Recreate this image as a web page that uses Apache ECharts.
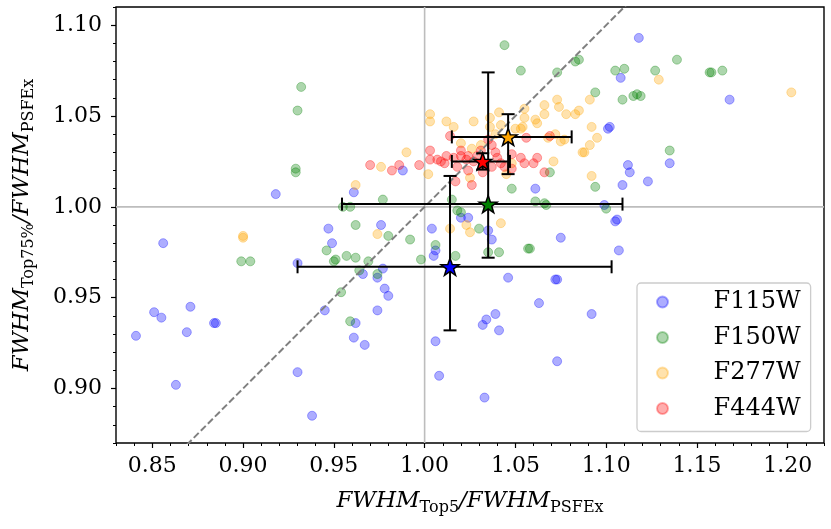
<!DOCTYPE html>
<html>
<head>
<meta charset="utf-8">
<script src="https://cdn.jsdelivr.net/npm/echarts@6/dist/echarts.min.js"></script>
<style>
  html, body { margin: 0; padding: 0; background: #fff; }
  #chart { width: 831px; height: 529px; }
</style>
</head>
<body>
<div id="chart"></div>
<script>
const FONT = "DejaVu Serif";

const filters = ["F115W", "F150W", "F277W", "F444W"];
const starColors = ["#0000ff", "#008000", "#ffa500", "#ff0000"];
const pointColors = ["rgba(0,0,255,0.4)", "rgba(0,128,0,0.4)", "rgba(255,165,0,0.4)", "rgba(255,0,0,0.4)"];

const xTicks = [0.85, 0.90, 0.95, 1.00, 1.05, 1.10, 1.15, 1.20];
const yTicks = [0.90, 0.95, 1.00, 1.05, 1.10];

// [FWHM_Top5/FWHM_PSFEx, FWHM_Top75%/FWHM_PSFEx]
const f115w = [
  [1.118, 1.093], [1.108, 1.071], [1.168, 1.059], [1.101, 1.043], [1.102, 1.044],
  [1.135, 1.024], [1.112, 1.023], [1.113, 1.019], [1.123, 1.014], [1.109, 1.012],
  [1.061, 1.010], [1.099, 1.001], [1.105, 0.992], [1.106, 0.993], [1.075, 0.983],
  [1.107, 0.976], [1.035, 0.987], [1.037, 0.982], [1.020, 0.994], [1.024, 0.994],
  [1.004, 0.988], [1.006, 0.976], [1.005, 0.973], [0.988, 1.020], [0.961, 1.008],
  [0.918, 1.007], [0.856, 0.980], [0.947, 0.988], [0.976, 0.990], [0.949, 0.980],
  [0.930, 0.969], [0.966, 0.963], [0.977, 0.966], [0.974, 0.961], [0.978, 0.955],
  [0.980, 0.951], [0.945, 0.943], [0.974, 0.943], [0.962, 0.936], [0.961, 0.928],
  [0.967, 0.924], [0.930, 0.909], [0.938, 0.885], [0.841, 0.929], [0.851, 0.942],
  [0.855, 0.939], [0.871, 0.945], [0.869, 0.931], [0.884, 0.936], [0.885, 0.936],
  [0.863, 0.902], [1.046, 0.961], [1.073, 0.960], [1.072, 0.960], [1.063, 0.947],
  [1.092, 0.941], [1.039, 0.941], [1.034, 0.938], [1.032, 0.935], [1.041, 0.932],
  [1.006, 0.926], [1.073, 0.915], [1.008, 0.907], [1.033, 0.895]
];
const f150w = [
  [1.044, 1.089], [1.139, 1.081], [1.053, 1.075], [1.073, 1.074], [1.083, 1.080],
  [1.085, 1.081], [1.105, 1.075], [1.110, 1.076], [1.127, 1.075], [1.157, 1.074],
  [1.158, 1.074], [1.164, 1.075], [1.094, 1.063], [1.109, 1.059], [1.115, 1.061],
  [1.117, 1.062], [1.119, 1.061], [1.135, 1.031], [1.094, 1.011], [1.048, 1.010],
  [1.061, 1.003], [1.066, 1.002], [1.067, 1.001], [1.100, 0.999], [1.057, 0.977],
  [1.058, 0.977], [1.041, 0.975], [1.035, 0.975], [1.030, 0.988], [1.018, 0.998],
  [1.020, 0.997], [1.015, 1.004], [0.992, 0.982], [1.006, 0.979], [1.017, 0.973],
  [0.998, 0.971], [0.932, 1.066], [0.930, 1.053], [0.929, 1.021], [0.929, 1.019],
  [0.899, 0.970], [0.904, 0.970], [0.977, 1.004], [0.955, 1.000], [0.959, 1.000],
  [0.962, 0.990], [0.980, 0.984], [0.946, 0.976], [0.957, 0.973], [0.962, 0.972],
  [0.950, 0.970], [0.951, 0.971], [0.969, 0.970], [0.964, 0.965], [0.974, 0.963],
  [0.954, 0.953], [0.959, 0.937], [1.069, 1.019]
];
const f277w = [
  [1.202, 1.063], [1.129, 1.070], [1.091, 1.059], [1.092, 1.044], [1.095, 1.038],
  [1.091, 1.034], [1.087, 1.030], [1.088, 1.030], [1.092, 1.017], [1.071, 1.025],
  [1.042, 0.991], [1.014, 0.988], [1.023, 0.990], [1.025, 0.986], [0.900, 0.983],
  [0.900, 0.984], [0.976, 1.022], [0.990, 1.030], [0.962, 1.012], [0.974, 0.985],
  [1.003, 1.051], [1.003, 1.047], [1.012, 1.047], [1.016, 1.044], [1.027, 1.047],
  [1.036, 1.049], [1.036, 1.044], [1.041, 1.052], [1.042, 1.045], [1.055, 1.054],
  [1.055, 1.049], [1.054, 1.044], [1.053, 1.043], [1.050, 1.043], [1.061, 1.048],
  [1.062, 1.046], [1.066, 1.056], [1.066, 1.051], [1.073, 1.059], [1.074, 1.055],
  [1.078, 1.051], [1.083, 1.051], [1.085, 1.053], [1.068, 1.038], [1.072, 1.040],
  [1.075, 1.036], [1.077, 1.037], [1.020, 1.035], [1.026, 1.032], [1.031, 1.034],
  [1.039, 1.040], [1.002, 1.018], [1.025, 1.016], [1.045, 1.018], [1.048, 1.024]
];
const f444w = [
  [0.970, 1.023], [0.982, 1.020], [0.986, 1.023], [0.997, 1.023], [1.003, 1.026],
  [1.003, 1.031], [1.007, 1.026], [1.009, 1.025], [1.011, 1.024], [1.012, 1.028],
  [1.014, 1.039], [1.016, 1.027], [1.018, 1.022], [1.020, 1.031], [1.020, 1.028],
  [1.023, 1.026], [1.024, 1.028], [1.024, 1.020], [1.017, 1.014], [1.026, 1.012],
  [1.032, 1.019], [1.035, 1.037], [1.037, 1.034], [1.039, 1.030], [1.040, 1.027],
  [1.042, 1.024], [1.037, 1.022], [1.031, 1.031], [1.044, 1.022], [1.048, 1.021],
  [1.048, 1.029], [1.053, 1.027], [1.055, 1.024], [1.056, 1.038], [1.060, 1.024],
  [1.062, 1.027], [1.069, 1.039], [1.066, 1.019], [1.027, 1.025], [1.029, 1.028]
];
const points = [f115w, f150w, f277w, f444w];

// median markers with their spread, one per filter
const starX = [1.014, 1.035, 1.046, 1.032];
const starY = [0.967, 1.0015, 1.0385, 1.025];
const xLow  = [0.930, 0.9545, 1.015, 1.015];
const xHigh = [1.103, 1.109, 1.081, 1.047];
const yLow  = [0.932, 0.972, 1.018, 1.0205];
const yHigh = [1.017, 1.074, 1.051, 1.0295];

const STAR = "path://M0,-10L2.35,-3.24L9.51,-3.09L3.8,1.24L5.88,8.09L0,4L-5.88,8.09L-3.8,1.24L-9.51,-3.09L-2.35,-3.24Z";

const chart = echarts.init(document.getElementById("chart"));

const labelStyle = { fontFamily: FONT, fontSize: 22, color: "#000" };
const nameRich = {
  i: { fontFamily: FONT, fontStyle: "italic", fontSize: 23, color: "#000", lineHeight: 30 },
  s: { fontFamily: FONT, fontSize: 16, color: "#000", lineHeight: 16, verticalAlign: "bottom" }
};

function capLine(x1, y1, x2, y2) {
  return { type: "line", shape: { x1, y1, x2, y2 }, style: { stroke: "#000", lineWidth: 2 } };
}

const series = [];

filters.forEach((name, k) => {
  series.push({
    name,
    type: "scatter",
    data: points[k],
    symbolSize: 9,
    itemStyle: { color: pointColors[k], borderColor: pointColors[k], borderWidth: 1 },
    z: 1
  });
});

series.push({
  name: "ref",
  type: "line",
  data: [[0.83, 0.83], [1.22, 1.22]],
  symbol: "none",
  lineStyle: { color: "#808080", width: 2, type: [7, 3] },
  z: 3,
  silent: true
});
series.push({
  name: "one-x",
  type: "line",
  data: [[1.0, 0.87], [1.0, 1.11]],
  symbol: "none",
  lineStyle: { color: "#bdbdbd", width: 1.6 },
  z: 0,
  silent: true
});
series.push({
  name: "one-y",
  type: "line",
  data: [[0.83, 1.0], [1.22, 1.0]],
  symbol: "none",
  lineStyle: { color: "#bdbdbd", width: 1.6 },
  z: 0,
  silent: true
});

series.push({
  name: "errors",
  type: "custom",
  data: starX.map((x, k) => [x, starY[k], xLow[k], xHigh[k], yLow[k], yHigh[k]]),
  renderItem(params, api) {
    const c = api.coord([api.value(0), api.value(1)]);
    const l = api.coord([api.value(2), api.value(1)]);
    const r = api.coord([api.value(3), api.value(1)]);
    const b = api.coord([api.value(0), api.value(4)]);
    const t = api.coord([api.value(0), api.value(5)]);
    const h = 6.5;
    return {
      type: "group",
      children: [
        capLine(l[0], c[1], r[0], c[1]),
        capLine(l[0], c[1] - h, l[0], c[1] + h),
        capLine(r[0], c[1] - h, r[0], c[1] + h),
        capLine(c[0], b[1], c[0], t[1]),
        capLine(c[0] - h, b[1], c[0] + h, b[1]),
        capLine(c[0] - h, t[1], c[0] + h, t[1])
      ]
    };
  },
  z: 4,
  silent: true
});

filters.forEach((name, k) => {
  series.push({
    name: name + " median",
    type: "scatter",
    data: [[starX[k], starY[k]]],
    symbol: STAR,
    symbolKeepAspect: true,
    symbolSize: 18,
    itemStyle: { color: starColors[k], borderColor: "#000", borderWidth: 1.5, opacity: 1 },
    z: 5,
    silent: true
  });
});

chart.setOption({
  animation: false,
  backgroundColor: "#fff",
  grid: {
    left: 116, top: 7, right: 7, bottom: 86,
    show: true, borderColor: "#000", borderWidth: 1.4, backgroundColor: "transparent",
    outerBoundsMode: "none"
  },
  legend: {
    data: filters,
    orient: "vertical",
    left: 637, top: 283,
    padding: [7, 10, 11, 19],
    itemWidth: 30, itemHeight: 11, itemGap: 11.5,
    icon: "circle",
    backgroundColor: "rgba(255,255,255,0.8)",
    borderColor: "#cccccc", borderWidth: 1.3, borderRadius: 4,
    textStyle: { fontFamily: FONT, fontSize: 24, color: "#000", padding: [0, 0, 0, 31] },
    selectedMode: false
  },
  xAxis: [
    {
      type: "value", min: 0.83, max: 1.22, position: "bottom",
      axisLine: { show: false },
      splitLine: { show: false },
      axisTick: { show: true, length: 5, lineStyle: { color: "#000", width: 1.2 }, customValues: xTicks },
      axisLabel: Object.assign({ margin: 12, customValues: xTicks, formatter: v => v.toFixed(2) }, labelStyle),
      name: "{i|FWHM}{s|Top5}{i|/FWHM}{s|PSFEx}",
      nameLocation: "middle", nameGap: 43,
      nameTextStyle: { rich: nameRich }
    },
    {
      type: "value", min: 0.83, max: 1.22, interval: 0.01, position: "bottom",
      axisLine: { show: false }, splitLine: { show: false }, axisLabel: { show: false },
      axisTick: { show: true, length: 3, lineStyle: { color: "#000", width: 1 } }
    }
  ],
  yAxis: [
    {
      type: "value", min: 0.87, max: 1.11, position: "left",
      axisLine: { show: false },
      splitLine: { show: false },
      axisTick: { show: true, length: 5, lineStyle: { color: "#000", width: 1.2 }, customValues: yTicks },
      axisLabel: Object.assign({ margin: 14, customValues: yTicks, formatter: v => v.toFixed(2) }, labelStyle),
      name: "{i|FWHM}{s|Top75%}{i|/FWHM}{s|PSFEx}",
      nameLocation: "middle", nameGap: 79, nameRotate: 90,
      nameTextStyle: { rich: nameRich }
    },
    {
      type: "value", min: 0.87, max: 1.11, interval: 0.01, position: "left",
      axisLine: { show: false }, splitLine: { show: false }, axisLabel: { show: false },
      axisTick: { show: true, length: 3, lineStyle: { color: "#000", width: 1 } }
    }
  ],
  series
});
</script>
</body>
</html>
